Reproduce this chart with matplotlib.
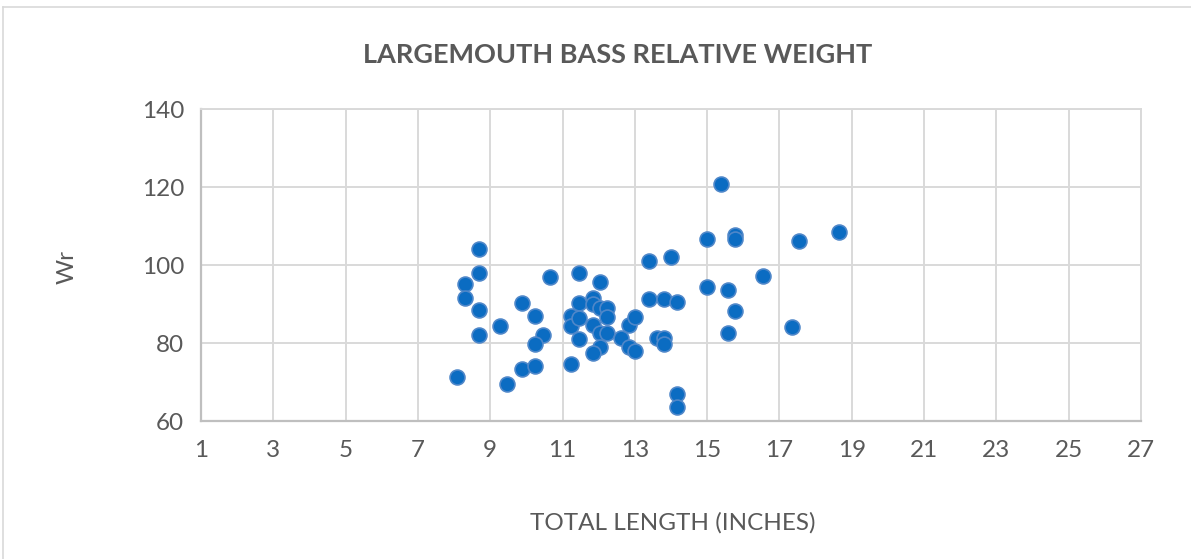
import matplotlib.pyplot as plt
from matplotlib.lines import Line2D

# Data
length_in = [8.09, 8.68, 8.68, 8.29, 8.29, 8.68, 8.68, 9.26, 9.46, 9.87,
             9.87, 10.25, 10.47, 10.25, 10.25, 10.65, 11.24, 11.24, 11.24, 11.45,
             11.45, 11.45, 11.45, 11.83, 11.83, 12.04, 12.04, 12.24, 12.24, 11.83,
             12.04, 12.24, 12.04, 11.83, 12.63, 12.83, 13.01, 12.83, 13.01, 13.40,
             13.99, 13.40, 13.81, 14.16, 13.60, 13.81, 13.81, 14.16, 14.16, 15.38,
             14.99, 15.78, 15.78, 17.55, 18.66, 16.55, 14.99, 15.58, 15.78, 15.58,
             17.35]
rel_weight = [71.2, 104.2, 97.9, 95.1, 91.5, 88.5, 82.1, 84.4, 69.4, 90.3,
              73.4, 87.0, 82.1, 79.7, 74.2, 96.9, 87.0, 84.4, 74.7, 98.0,
              90.3, 86.4, 81.0, 91.5, 90.0, 95.7, 89.1, 89.1, 86.7, 84.6,
              82.5, 82.5, 79.1, 77.5, 81.2, 84.6, 86.7, 79.1, 78.0, 100.9,
              102.1, 91.3, 91.2, 90.5, 81.2, 81.2, 79.7, 66.9, 63.5, 120.8,
              106.6, 107.8, 106.7, 106.1, 108.5, 97.2, 94.4, 93.6, 88.1, 82.5,
              84.0]

x_ticks = list(range(1, 28, 2))
y_ticks = [60, 80, 100, 120, 140]

text_color = '#595959'
plt.rcParams['font.family'] = ['Lato', 'DejaVu Sans']

fig = plt.figure(figsize=(11.91, 5.59), dpi=100)
ax = fig.add_axes([201 / 1191, 1 - 421 / 559, 940 / 1191, 312 / 559])

ax.scatter(length_in, rel_weight, s=115, color='#0B6CC2', edgecolors='#4F87C9',
           linewidths=1.2, zorder=3, clip_on=False)

ax.set_xlim(1, 27)
ax.set_ylim(60, 140)
ax.set_xticks(x_ticks)
ax.set_yticks(y_ticks)
ax.grid(True, color='#D9D9D9', linewidth=1.4)
ax.set_axisbelow(True)
ax.tick_params(length=0, labelsize=17.5, labelcolor=text_color, pad=14)
ax.tick_params(axis='y', pad=12)
for side in ['top', 'right']:
    ax.spines[side].set_color('#D9D9D9')
    ax.spines[side].set_linewidth(1.4)
for side in ['left', 'bottom']:
    ax.spines[side].set_color('#BFBFBF')
    ax.spines[side].set_linewidth(1.6)

fig.text(618 / 1191, 1 - 55 / 559, 'LARGEMOUTH BASS RELATIVE WEIGHT',
         ha='center', va='center', fontsize=19.5, fontweight='bold', color=text_color)
fig.text(673 / 1191, 1 - 523 / 559, 'TOTAL LENGTH (INCHES)',
         ha='center', va='center', fontsize=17.5, color=text_color)
fig.text(67 / 1191, 1 - 267 / 559, 'Wr', ha='center', va='center',
         rotation=90, fontsize=17.5, color=text_color)

# chart frame (only top and left edges visible)
fig.add_artist(Line2D([3 / 1191, 3 / 1191], [0, 1 - 7 / 559], transform=fig.transFigure,
                      color='#D9D9D9', linewidth=1.2))
fig.add_artist(Line2D([3 / 1191, 1], [1 - 7 / 559, 1 - 7 / 559], transform=fig.transFigure,
                      color='#D9D9D9', linewidth=1.2))

fig.savefig('out.png', dpi=100)
